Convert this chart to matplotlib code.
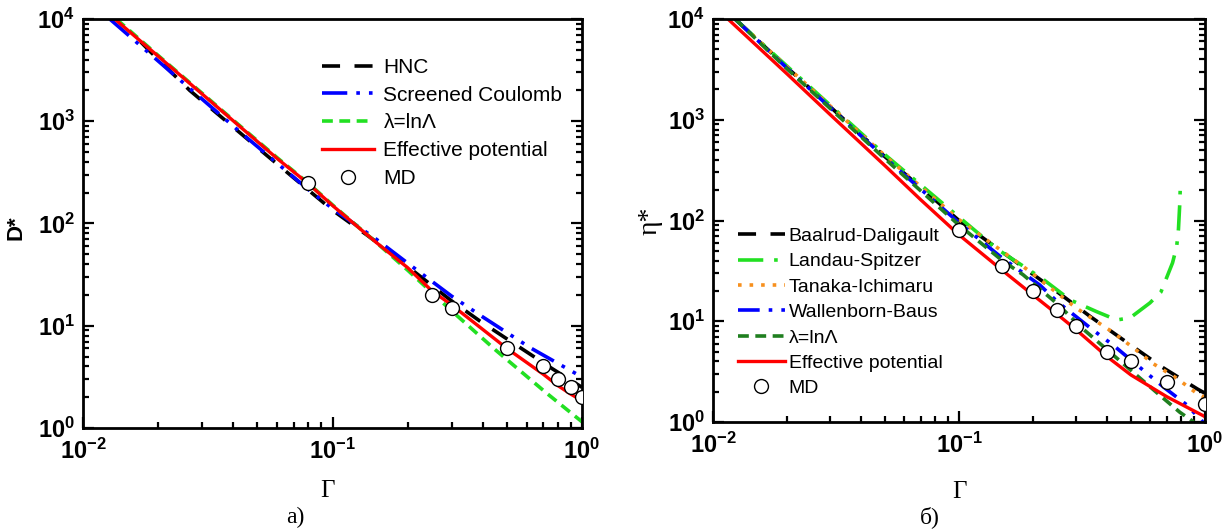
import numpy as np
import matplotlib
matplotlib.use('Agg')
import matplotlib.pyplot as plt
from matplotlib.ticker import LogLocator, FuncFormatter, NullFormatter

plt.rcParams['font.family'] = ['Liberation Sans', 'DejaVu Sans']
plt.rcParams['mathtext.fontset'] = 'custom'
plt.rcParams['mathtext.rm'] = 'Liberation Sans'
plt.rcParams['mathtext.bf'] = 'Liberation Sans:bold'

# ---- panel a): diffusion coefficient D*
hnc_g = [0.017, 0.0186, 0.0268, 0.0545, 0.1, 0.15, 0.2, 0.3, 0.39, 0.56, 0.76, 1.0]
hnc_d = [6000, 4800, 2000, 464, 135, 66, 38, 17.5, 11.1, 6.2, 3.8, 2.5]

sc_g = [0.0128, 0.0415, 0.08, 0.1, 0.15, 0.2, 0.3, 0.4, 0.62, 1.0]
sc_d = [10000, 830, 215, 140, 70, 41, 19.5, 12.2, 6.1, 3.15]

lam_g = [0.0136, 0.02, 0.03, 0.0415, 0.06, 0.08, 0.1, 0.15, 0.2, 0.3, 0.45, 0.72, 1.0]
lam_d = [10000, 4400, 1880, 950, 440, 248, 152, 65, 35, 14, 5.8, 2.2, 1.15]

ep_g = [0.0134, 0.02, 0.03, 0.0415, 0.06, 0.08, 0.1, 0.15, 0.2, 0.25, 0.3, 0.5, 0.7, 0.8, 0.9, 1.0]
ep_d = [10000, 4330, 1850, 935, 432, 245, 150, 65, 37, 22, 16, 6.0, 3.35, 2.6, 2.15, 1.85]

md_g = [0.08, 0.25, 0.3, 0.5, 0.7, 0.8, 0.9, 1.0]
md_d = [250, 20, 15, 6, 4, 3, 2.5, 2]

# ---- panel б): viscosity η*
bd_g = [0.0123, 0.02, 0.05, 0.1, 0.182, 0.255, 0.344, 0.48, 0.67, 0.93, 1.0]
bd_e = [10000, 3300, 430, 100, 34.5, 19, 11, 6.2, 3.5, 2.13, 1.93]

ls_g = [0.0123, 0.02, 0.05, 0.1, 0.143, 0.217, 0.283, 0.364, 0.438, 0.496, 0.597, 0.662, 0.738, 0.767, 0.78, 0.79, 0.795]
ls_e = [10000, 3400, 450, 108, 52, 26.7, 16.3, 12.4, 10.3, 10.8, 15.2, 19.5, 38, 55, 82, 150, 250]

ti_g = [0.0123, 0.02, 0.05, 0.1, 0.19, 0.3, 0.418, 0.519, 0.615, 0.767, 0.925, 1.0]
ti_e = [10000, 3350, 440, 102, 32.4, 13.5, 7.9, 5.3, 3.8, 2.72, 1.93, 1.75]

wb_g = [0.0123, 0.02, 0.05, 0.1, 0.147, 0.213, 0.252, 0.305, 0.35, 0.423, 0.58, 0.694, 0.843, 0.98]
wb_e = [10000, 3250, 420, 95, 44, 22.9, 15.5, 10.7, 8.2, 5.8, 3.05, 2.13, 1.48, 1.0]

dg_g = [0.0123, 0.02, 0.05, 0.1, 0.15, 0.182, 0.25, 0.319, 0.443, 0.668, 0.79, 0.9]
dg_e = [10000, 3200, 410, 90, 40, 29, 15, 8.4, 4.2, 1.77, 1.25, 1.0]

epv_g = [0.0115, 0.02, 0.03, 0.05, 0.07, 0.1, 0.15, 0.2, 0.25, 0.3, 0.4, 0.5, 0.7, 1.0]
epv_e = [10000, 2850, 1120, 350, 160, 72, 32, 18.2, 11.8, 8.2, 4.45, 2.93, 1.78, 1.13]

mdv_g = [0.1, 0.15, 0.2, 0.25, 0.3, 0.4, 0.5, 0.7, 1.0]
mdv_e = [80, 35, 20, 13, 9, 5, 4, 2.5, 1.5]

lime = '#22e022'
dkgreen = '#1f7f1f'
orange = '#f7901e'
serif = ['Liberation Serif', 'DejaVu Serif']

fig = plt.figure(figsize=(12.24, 5.29), dpi=100)
ax1 = fig.add_axes([83 / 1224, 101 / 529, 499 / 1224, 409 / 529])
ax2 = fig.add_axes([713 / 1224, 107 / 529, 492 / 1224, 403 / 529])

lw = 2.6
ax1.plot(hnc_g, hnc_d, color='black', lw=lw, dashes=(5, 4), label='HNC')
ax1.plot(sc_g, sc_d, color='blue', lw=lw, dashes=(7, 2.5, 1, 2.5, 1, 2.5), label='Screened Coulomb')
ax1.plot(lam_g, lam_d, color=lime, lw=lw, dashes=(3, 1.8), label='λ=lnΛ')
ax1.plot(ep_g, ep_d, color='red', lw=2.4, label='Effective potential')
ax1.plot(md_g, md_d, 'o', ms=10, mfc='white', mec='black', mew=1.0, label='MD', zorder=5)

ax2.plot(bd_g, bd_e, color='black', lw=lw, dashes=(5, 4), label='Baalrud-Daligault')
ax2.plot(ls_g, ls_e, color=lime, lw=lw, dashes=(7, 3, 1, 3), label='Landau-Spitzer')
ax2.plot(ti_g, ti_e, color=orange, lw=lw, dashes=(1, 2.2), label='Tanaka-Ichimaru')
ax2.plot(wb_g, wb_e, color='blue', lw=lw, dashes=(6, 2.5, 1, 2.5, 1, 2.5), label='Wallenborn-Baus')
ax2.plot(dg_g, dg_e, color=dkgreen, lw=lw, dashes=(3, 1.8), label='λ=lnΛ')
ax2.plot(epv_g, epv_e, color='red', lw=2.4, label='Effective potential')
ax2.plot(mdv_g, mdv_e, 'o', ms=10, mfc='white', mec='black', mew=1.0, label='MD', zorder=5)

fmt = FuncFormatter(lambda v, p: r'$\mathbf{10^{%d}}$' % int(round(np.log10(v))))
for ax in (ax1, ax2):
    ax.set_xscale('log')
    ax.set_yscale('log')
    ax.set_xlim(0.01, 1)
    ax.set_ylim(1, 1e4)
    for s in ax.spines.values():
        s.set_linewidth(2)
    ax.xaxis.set_major_locator(LogLocator(base=10, numticks=10))
    ax.yaxis.set_major_locator(LogLocator(base=10, numticks=10))
    ax.xaxis.set_minor_locator(LogLocator(base=10, subs=np.arange(2, 10), numticks=10))
    ax.yaxis.set_minor_locator(LogLocator(base=10, subs=np.arange(2, 10), numticks=10))
    ax.xaxis.set_major_formatter(fmt)
    ax.yaxis.set_major_formatter(fmt)
    ax.xaxis.set_minor_formatter(NullFormatter())
    ax.yaxis.set_minor_formatter(NullFormatter())
    ax.tick_params(which='both', direction='in', left=True, right=True, bottom=True, top=False,
                   width=1.6, labelsize=17)
    ax.tick_params(which='major', length=8)
    ax.tick_params(which='minor', length=4)
    ax.tick_params(axis='x', pad=8)
    ax.tick_params(axis='y', pad=6)

ax1.set_xlabel('Γ', family=serif, fontsize=18)
ax1.xaxis.set_label_coords(0.49, -0.155)
ax1.xaxis.label.set_va('center')
ax1.set_ylabel('D*', fontsize=16, fontweight='bold')
ax1.yaxis.set_label_coords(-0.135, 0.49)
ax1.yaxis.label.set_va('center')

ax2.set_xlabel('Γ', family=serif, fontsize=18)
ax2.xaxis.set_label_coords(0.5, -0.174)
ax2.xaxis.label.set_va('center')
ax2.set_ylabel('η*', family=serif, fontsize=20)
ax2.yaxis.set_label_coords(-0.128, 0.5)
ax2.yaxis.label.set_va('center')

fig.text(295 / 1224, 1 - 517 / 529, 'a)', family=serif,
         fontsize=17, ha='center', va='center')
fig.text(930 / 1224, 1 - 517 / 529, 'б)', family=serif,
         fontsize=17, ha='center', va='center')

ax1.legend(loc='upper left', bbox_to_anchor=(0.479, 0.905), frameon=False, fontsize=15,
           borderpad=0, borderaxespad=0, handlelength=2.5, handletextpad=0.45, labelspacing=0.42)
ax2.legend(loc='upper left', bbox_to_anchor=(0.051, 0.483), frameon=False, fontsize=14,
           borderpad=0, borderaxespad=0, handlelength=2.4, handletextpad=0.2, labelspacing=0.4)

fig.savefig('out.png', dpi=100)
